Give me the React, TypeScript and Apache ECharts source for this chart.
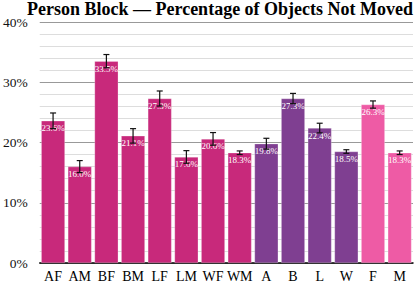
import React, { useEffect, useRef } from "react";
import * as echarts from "echarts";

const categories = ["AF", "AM", "BF", "BM", "LF", "LM", "WF", "WM", "A", "B", "L", "W", "F", "M"];
const values = [23.6, 16.0, 33.5, 21.1, 27.3, 17.6, 20.6, 18.3, 19.8, 27.3, 22.4, 18.5, 26.3, 18.3];
const errors = [1.3, 1.0, 1.1, 1.2, 1.25, 1.05, 1.05, 0.3, 0.9, 0.85, 0.8, 0.3, 0.6, 0.3];
const groups = [0, 0, 0, 0, 0, 0, 0, 0, 1, 1, 1, 1, 2, 2];
const groupColors = ["#C8297B", "#7F3F91", "#EE5BA5"];
const yTicks = [0, 10, 20, 30, 40];

export default function App() {
  const ref = useRef<HTMLDivElement>(null);
  useEffect(() => {
    const chart = echarts.init(ref.current!, undefined, { renderer: "svg" });
    const font = "Liberation Serif";
    chart.setOption({
      animation: false,
      textStyle: { fontFamily: font },
      title: {
        text: "Person Block \u2014 Percentage of Objects Not Moved",
        left: 27,
        top: 0,
        padding: 0,
        textStyle: { fontFamily: font, fontWeight: "bold", fontSize: 18, color: "#000" },
      },
      grid: { left: 37, right: 2, top: 22, bottom: 20 },
      xAxis: {
        type: "category",
        data: categories,
        axisLine: { lineStyle: { color: "#000", width: 1.5 } },
        axisTick: { show: false },
        axisLabel: { fontFamily: font, fontSize: 14, color: "#000", margin: 6, interval: 0 },
      },
      yAxis: {
        type: "value",
        min: yTicks[0],
        max: yTicks[yTicks.length - 1],
        interval: 10,
        axisLine: { show: false },
        axisTick: { show: false },
        axisLabel: { fontFamily: font, fontSize: 13.5, color: "#111", formatter: "{value}%", margin: 12 },
        splitLine: { lineStyle: { color: "#999", width: 1 } },
        minorTick: { show: false, splitNumber: 5 },
        minorSplitLine: { show: true, lineStyle: { color: "#ddd", width: 1 } },
      },
      series: [
        {
          type: "bar",
          barCategoryGap: "11%",
          data: values.map((v, i) => ({
            value: v,
            itemStyle: { color: groupColors[groups[i]], borderColor: "rgba(255,255,255,0.5)", borderWidth: 0.5 },
          })),
          label: {
            show: true,
            position: "insideTop",
            distance: 3,
            formatter: (p: any) => p.value.toFixed(1) + "%",
            fontFamily: font,
            fontSize: 9,
            color: "#fff",
          },
          z: 2,
        },
        {
          type: "custom",
          z: 5,
          data: values.map((v, i) => [i, v - errors[i], v + errors[i]]),
          renderItem: (params: any, api: any) => {
            const x = api.value(0);
            const lo = api.coord([x, api.value(1)]);
            const hi = api.coord([x, api.value(2)]);
            const cap = 3;
            const style = { stroke: "#111", lineWidth: 1.2 };
            return {
              type: "group",
              children: [
                { type: "line", shape: { x1: hi[0], y1: hi[1], x2: lo[0], y2: lo[1] }, style },
                { type: "line", shape: { x1: hi[0] - cap, y1: hi[1], x2: hi[0] + cap, y2: hi[1] }, style },
                { type: "line", shape: { x1: lo[0] - cap, y1: lo[1], x2: lo[0] + cap, y2: lo[1] }, style },
              ],
            };
          },
        },
      ],
    });
    return () => chart.dispose();
  }, []);
  return <div ref={ref} style={{ width: 415, height: 283, position: "fixed", left: 0, top: 0, background: "#fff" }} />;
}
